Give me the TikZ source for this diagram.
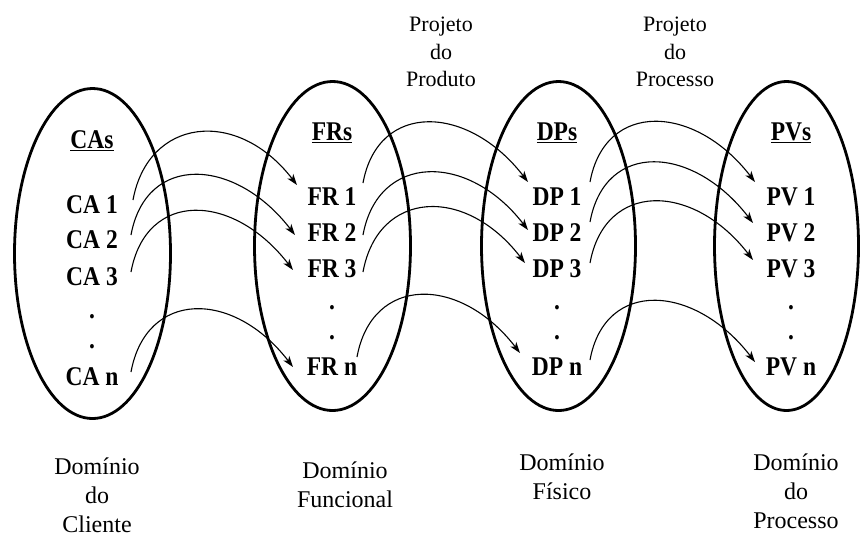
\documentclass[tikz,border=0pt]{standalone}
\usepackage{fontspec}
\usepackage{graphicx}
\setmainfont{Liberation Serif}
\usetikzlibrary{shapes.geometric,arrows.meta}

% bold entry text, set slightly taller than wide
\newcommand{\entry}[1]{\scalebox{1}[1.15]{#1}}

\begin{document}
\begin{tikzpicture}[x=1pt,y=-1pt,
  realm/.style={ellipse, draw, line width=2.8pt, inner sep=0pt},
  item/.style={anchor=base, inner sep=0pt, font=\fontsize{23.5}{27}\selectfont\bfseries},
  caption/.style={anchor=north, inner sep=0pt, align=center, font=\fontsize{24}{29}\selectfont},
  stage/.style={anchor=north, inner sep=0pt, align=center, font=\fontsize{22}{27.5}\selectfont},
  link/.style={line width=1.1pt, -{Stealth[length=11pt,width=7.5pt,inset=3pt]}},
]
\useasboundingbox (0,0) rectangle (861,539);

% the four domains
\node[realm, minimum width=156pt, minimum height=330pt] (eca) at (92.5,253.5) {};
\node[realm, minimum width=156pt, minimum height=329pt] (efr) at (332.5,246) {};
\node[realm, minimum width=154pt, minimum height=329pt] (edp) at (558.5,246) {};
\node[realm, minimum width=144pt, minimum height=329pt] (epv) at (786.5,246) {};

% customer attributes
\node[item] (cas) at (92,148) {\entry{\underline{CAs}}};
\node[item] (ca1) at (92,213) {\entry{CA 1}};
\node[item] (ca2) at (92,248) {\entry{CA 2}};
\node[item] (ca3) at (92,285) {\entry{CA 3}};
\node[item] (cad1) at (92,318) {\entry{.}};
\node[item] (cad2) at (92,348) {\entry{.}};
\node[item] (can) at (92,385) {\entry{CA n}};

% functional requirements
\node[item] (frs) at (332,140) {\entry{\underline{FRs}}};
\node[item] (fr1) at (332,205) {\entry{FR 1}};
\node[item] (fr2) at (332,241) {\entry{FR 2}};
\node[item] (fr3) at (332,277) {\entry{FR 3}};
\node[item] (frd1) at (332,309) {\entry{.}};
\node[item] (frd2) at (332,339) {\entry{.}};
\node[item] (frn) at (332,375) {\entry{FR n}};

% design parameters
\node[item] (dps) at (557,140) {\entry{\underline{DPs}}};
\node[item] (dp1) at (557,205) {\entry{DP 1}};
\node[item] (dp2) at (557,241) {\entry{DP 2}};
\node[item] (dp3) at (557,277) {\entry{DP 3}};
\node[item] (dpd1) at (557,309) {\entry{.}};
\node[item] (dpd2) at (557,339) {\entry{.}};
\node[item] (dpn) at (557,375) {\entry{DP n}};

% process variables
\node[item] (pvs) at (791,140) {\entry{\underline{PVs}}};
\node[item] (pv1) at (791,205) {\entry{PV 1}};
\node[item] (pv2) at (791,241) {\entry{PV 2}};
\node[item] (pv3) at (791,277) {\entry{PV 3}};
\node[item] (pvd1) at (791,309) {\entry{.}};
\node[item] (pvd2) at (791,339) {\entry{.}};
\node[item] (pvn) at (791,375) {\entry{PV n}};

% design stages
\node[stage] (prod) at (441,17) {Projeto\\do\\Produto};
\node[stage] (proc) at (675,17) {Projeto\\do\\Processo};

% domain names
\node[caption] (dcl) at (97,458) {Domínio\\do\\Cliente};
\node[caption] (dfu) at (345,462) {Domínio\\Funcional};
\node[caption] (dfi) at (562,454) {Domínio\\Físico};
\node[caption] (dpr) at (796,454) {Domínio\\do\\Processo};

% mappings CA -> FR
\draw[link] ([shift={(41,-13)}]ca1.base) .. controls +(15,-82) and +(-60,-78) .. ([shift={(-35,-20)}]fr1.base);
\draw[link] ([shift={(39,-13)}]ca2.base) .. controls +(15,-82) and +(-60,-78) .. ([shift={(-37,-6)}]fr2.base);
\draw[link] ([shift={(39,-13)}]ca3.base) .. controls +(15,-82) and +(-60,-78) .. ([shift={(-39,-7)}]fr3.base);
\draw[link] ([shift={(39,-13)}]can.base) .. controls +(15,-82) and +(-60,-78) .. ([shift={(-39,-8)}]frn.base);

% mappings FR -> DP
\draw[link] ([shift={(31,-22)}]fr1.base) .. controls +(15,-82) and +(-60,-78) .. ([shift={(-29,-23)}]dp1.base);
\draw[link] ([shift={(31,-6)}]fr2.base) .. controls +(15,-82) and +(-60,-78) .. ([shift={(-29,-11)}]dp2.base);
\draw[link] ([shift={(31,-5)}]fr3.base) .. controls +(15,-82) and +(-60,-78) .. ([shift={(-32,-14)}]dp3.base);
\draw[link] ([shift={(25,-18)}]frn.base) .. controls +(15,-82) and +(-60,-78) .. ([shift={(-37,-22)}]dpn.base);

% mappings DP -> PV
\draw[link] ([shift={(33,-23)}]dp1.base) .. controls +(15,-82) and +(-60,-78) .. ([shift={(-36,-23)}]pv1.base);
\draw[link] ([shift={(33,-19)}]dp2.base) .. controls +(15,-82) and +(-60,-78) .. ([shift={(-38,-18)}]pv2.base);
\draw[link] ([shift={(33,-14)}]dp3.base) .. controls +(15,-82) and +(-60,-78) .. ([shift={(-38,-17)}]pv3.base);
\draw[link] ([shift={(33,-15)}]dpn.base) .. controls +(15,-82) and +(-60,-78) .. ([shift={(-36,-13)}]pvn.base);
\end{tikzpicture}
\end{document}
